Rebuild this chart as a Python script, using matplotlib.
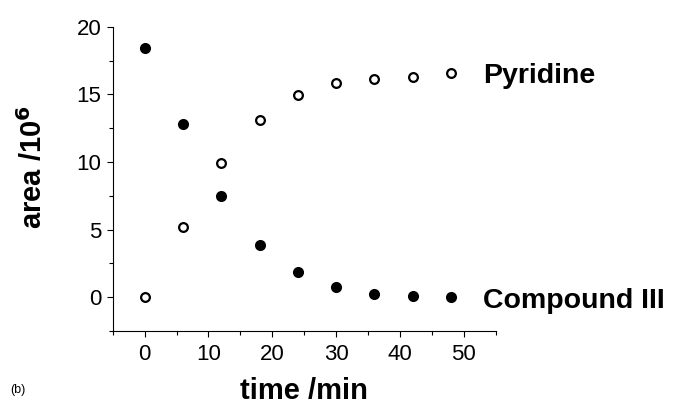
import matplotlib
matplotlib.use("Agg")
import matplotlib.pyplot as plt
from matplotlib.ticker import MultipleLocator

plt.rcParams['font.family'] = ['Liberation Sans', 'DejaVu Sans']

# sampling times (min) and peak areas (x 10^6)
time_min = [0, 6, 12, 18, 24, 30, 36, 42, 48]
compound_iii = [18.4, 12.8, 7.48, 3.83, 1.83, 0.79, 0.25, 0.07, 0.04]
pyridine = [0.0, 5.19, 9.9, 13.14, 14.94, 15.85, 16.18, 16.32, 16.62]

fig = plt.figure(figsize=(6.73, 4.07), dpi=100)
ax = fig.add_axes([0.1675, 0.1867, 0.569, 0.7473])

ax.plot(time_min, compound_iii, 'o', color='black', markersize=8, markeredgewidth=0,
        clip_on=False)
ax.plot(time_min, pyridine, 'o', markerfacecolor='white', markeredgecolor='black',
        markersize=6.3, markeredgewidth=1.6, clip_on=False)

ax.set_xlim(-5, 55)
ax.set_ylim(-2.5, 20)
ax.xaxis.set_major_locator(MultipleLocator(10))
ax.xaxis.set_minor_locator(MultipleLocator(5))
ax.yaxis.set_major_locator(MultipleLocator(5))
ax.yaxis.set_minor_locator(MultipleLocator(2.5))

for side in ('top', 'right'):
    ax.spines[side].set_visible(False)
for side in ('left', 'bottom'):
    ax.spines[side].set_linewidth(0.8)

ax.tick_params(which='both', direction='out', width=0.8, labelsize=16)
ax.tick_params(which='major', length=4)
ax.tick_params(which='minor', length=3)
ax.tick_params(axis='x', which='major', pad=5)
ax.tick_params(axis='y', which='major', pad=4)

ax.set_xlabel('time /min', fontsize=21, fontweight='bold', labelpad=9)
ax.set_ylabel('area /10$^\\mathbf{6}$', fontsize=21, fontweight='bold')
ax.yaxis.set_label_coords(-0.17, 0.54)

ax.text(53, 16.4, 'Pyridine', fontsize=20.5, fontweight='bold', va='center',
        ha='left', clip_on=False)
ax.text(53, -0.3, 'Compound III', fontsize=20.5, fontweight='bold', va='center',
        ha='left', clip_on=False)

fig.text(0.015, 0.035, '(b)', fontsize=9)

fig.savefig('out.png', dpi=100)
